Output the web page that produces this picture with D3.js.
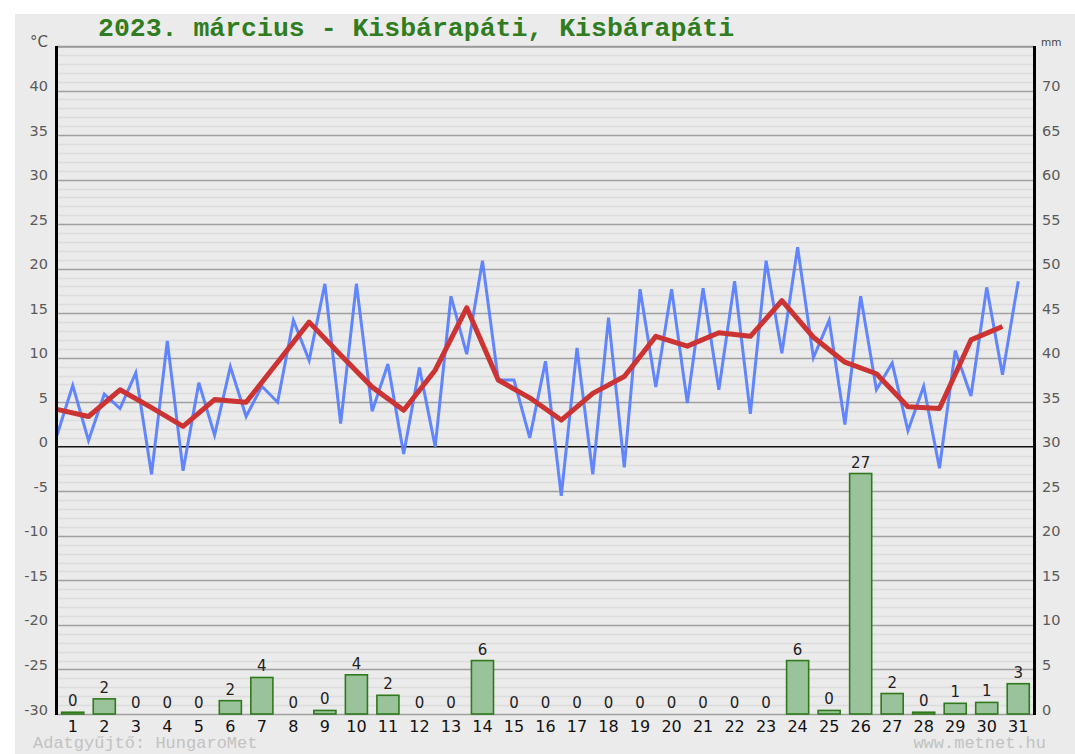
<!DOCTYPE html>
<html>
<head>
<meta charset="utf-8">
<script src="https://cdn.jsdelivr.net/npm/d3@7"></script>
<style>
  html, body { margin: 0; padding: 0; background: #ffffff; }
  svg { display: block; }
</style>
</head>
<body>
<svg id="chart" width="1075" height="754"></svg>
<script>
// ---- data ----
const days = d3.range(1, 32);
const tempMin = [1.3, 0.7, 4.3, -3.1, -2.7, 1.3, 3.4, 5.0, 9.7, 2.6, 4.0, -0.8, 0.0, 10.4, 7.5, 1.0, -5.5, -3.1, -2.3, 6.7, 4.9, 6.4, 3.7, 10.5, 10.0, 2.5, 6.4, 1.8, -2.4, 5.7, 8.1];
const tempMax = [6.9, 5.9, 8.3, 11.9, 7.2, 9.0, 6.8, 14.2, 18.3, 18.3, 9.3, 8.9, 16.9, 20.9, 7.5, 9.6, 11.1, 14.5, 17.7, 17.7, 17.8, 18.6, 20.9, 22.4, 14.2, 16.9, 9.4, 6.8, 10.8, 17.9, 18.6];
const tempAvg = [4.2, 3.4, 6.4, 4.4, 2.3, 5.3, 5.0, 9.5, 14.0, 10.3, 6.7, 4.1, 8.6, 15.6, 7.5, 5.5, 3.0, 6.0, 7.9, 12.4, 11.3, 12.8, 12.4, 16.4, 12.3, 9.5, 8.2, 4.5, 4.3, 12.0, 13.5];
const precip = [0.2, 1.7, 0, 0, 0, 1.5, 4.1, 0, 0.4, 4.4, 2.1, 0, 0, 6.0, 0, 0, 0, 0, 0, 0, 0, 0, 0, 6.0, 0.4, 27.0, 2.3, 0.2, 1.2, 1.3, 3.4];
const tempTicks = [40, 35, 30, 25, 20, 15, 10, 5, 0, -5, -10, -15, -20, -25, -30];
const mmTicks = [70, 65, 60, 55, 50, 45, 40, 35, 30, 25, 20, 15, 10, 5, 0];
const titleText = "2023. március - Kisbárapáti, Kisbárapáti";
const footerLeft = "Adatgyűjtő: HungaroMet";
const footerRight = "www.metnet.hu";

// ---- layout ----
const L = 57, R = 1034, T = 46, B = 714;
const svg = d3.select("#chart");

svg.append("rect").attr("x", 15).attr("y", 14).attr("width", 1060).attr("height", 740).attr("fill", "#ebebeb");

const y = d3.scaleLinear().domain([-30, 45]).range([B, T]);
const yMm = d3.scaleLinear().domain([0, 75]).range([B, T]);
const xBand = d3.scaleBand().domain(days).range([L, R]).paddingInner(0.3).paddingOuter(0.15);
const xLin = d3.scaleLinear().domain([0, 31]).range([L, R]);

// minor grid
const g = svg.append("g");
g.selectAll("line.minor").data(d3.range(-29, 45).filter(v => v % 5 !== 0)).join("line")
  .attr("x1", L).attr("x2", R).attr("y1", d => Math.round(y(d)) + 0.5).attr("y2", d => Math.round(y(d)) + 0.5)
  .attr("stroke", "#dcdcdc").attr("stroke-width", 1.5);
// major grid
g.selectAll("line.major").data(d3.range(-30, 46, 5).filter(v => v !== 0)).join("line")
  .attr("x1", L).attr("x2", R).attr("y1", d => Math.round(y(d)) + 0.5).attr("y2", d => Math.round(y(d)) + 0.5)
  .attr("stroke", "#a0a0a0").attr("stroke-width", 1.5);
// top border
g.append("line").attr("x1", L).attr("x2", R).attr("y1", T + 1).attr("y2", T + 1).attr("stroke", "#999").attr("stroke-width", 1.5);
// zero line
g.append("line").attr("x1", L).attr("x2", R).attr("y1", y(0)).attr("y2", y(0)).attr("stroke", "#111").attr("stroke-width", 1.5);

// ---- bars ----
const bars = svg.append("g");
bars.selectAll("rect").data(days).join("rect")
  .attr("x", d => xBand(d))
  .attr("width", xBand.bandwidth())
  .attr("y", (d, i) => yMm(precip[i]))
  .attr("height", (d, i) => B - yMm(precip[i]))
  .attr("fill", "#9bc39b")
  .attr("stroke", (d, i) => precip[i] > 0 ? "#2e7a1c" : "#6aa65a")
  .attr("stroke-width", (d, i) => precip[i] > 0 ? 1.6 : 1.2);
bars.selectAll("text").data(days).join("text")
  .attr("x", d => xBand(d) + xBand.bandwidth() / 2)
  .attr("y", (d, i) => yMm(precip[i]) - 6)
  .attr("text-anchor", "middle")
  .attr("font-family", "DejaVu Sans, Verdana, sans-serif")
  .attr("font-size", 15)
  .attr("fill", "#222")
  .text((d, i) => Math.round(precip[i]));

// ---- lines ----
const bluePts = [];
days.forEach((d, i) => {
  bluePts.push([xLin(d - 1), tempMin[i]]);
  bluePts.push([xLin(d - 0.5), tempMax[i]]);
});
svg.append("path")
  .attr("d", d3.line().x(p => p[0]).y(p => y(p[1]))(bluePts))
  .attr("fill", "none").attr("stroke", "#5a80ff").attr("stroke-width", 3).attr("stroke-linejoin", "miter").attr("stroke-opacity", 0.95);

svg.append("path")
  .attr("d", d3.line().x((d, i) => xLin(d - 1)).y((d, i) => y(tempAvg[i]))(days))
  .attr("fill", "none").attr("stroke", "#cc3333").attr("stroke-width", 5).attr("stroke-linejoin", "round");

// ---- axes lines ----
svg.append("line").attr("x1", 56.5).attr("x2", 56.5).attr("y1", T).attr("y2", B + 1).attr("stroke", "#000").attr("stroke-width", 3);
svg.append("line").attr("x1", R + 0.5).attr("x2", R + 0.5).attr("y1", T).attr("y2", B + 1).attr("stroke", "#000").attr("stroke-width", 3);

// ---- axis labels ----
const axisFont = "DejaVu Sans, Verdana, sans-serif";
svg.append("g").selectAll("text").data(tempTicks).join("text")
  .attr("x", 48).attr("y", d => y(d) + 0.5)
  .attr("text-anchor", "end")
  .attr("font-family", axisFont).attr("font-size", 14.5).attr("fill", "#5a5a5a")
  .text(d => d);
svg.append("g").selectAll("text").data(mmTicks).join("text")
  .attr("x", 1042).attr("y", d => yMm(d) + 0.5)
  .attr("text-anchor", "start")
  .attr("font-family", axisFont).attr("font-size", 14.5).attr("fill", "#5a5a5a")
  .text(d => d);
svg.append("g").selectAll("text").data(days).join("text")
  .attr("x", d => xBand(d) + xBand.bandwidth() / 2).attr("y", 732)
  .attr("text-anchor", "middle")
  .attr("font-family", axisFont).attr("font-size", 16).attr("fill", "#111")
  .text(d => d);

svg.append("text").attr("x", 30).attr("y", 47).attr("font-family", axisFont).attr("font-size", 15).attr("fill", "#555").text("°C");
svg.append("text").attr("x", 1041).attr("y", 46).attr("font-family", axisFont).attr("font-size", 10.5).attr("fill", "#444").text("mm");

// ---- title & footer ----
svg.append("text").attr("x", 98).attr("y", 36)
  .attr("font-family", "Liberation Mono, Courier New, monospace").attr("font-weight", "bold")
  .attr("font-size", 26.5).attr("fill", "#2f7d20").text(titleText);
svg.append("text").attr("x", 33).attr("y", 748)
  .attr("font-family", "Liberation Mono, Courier New, monospace")
  .attr("font-size", 17).attr("fill", "#c2c2c2").text(footerLeft);
svg.append("text").attr("x", 1046).attr("y", 748).attr("text-anchor", "end")
  .attr("font-family", "Liberation Mono, Courier New, monospace")
  .attr("font-size", 17).attr("fill", "#c2c2c2").text(footerRight);
</script>
</body>
</html>
